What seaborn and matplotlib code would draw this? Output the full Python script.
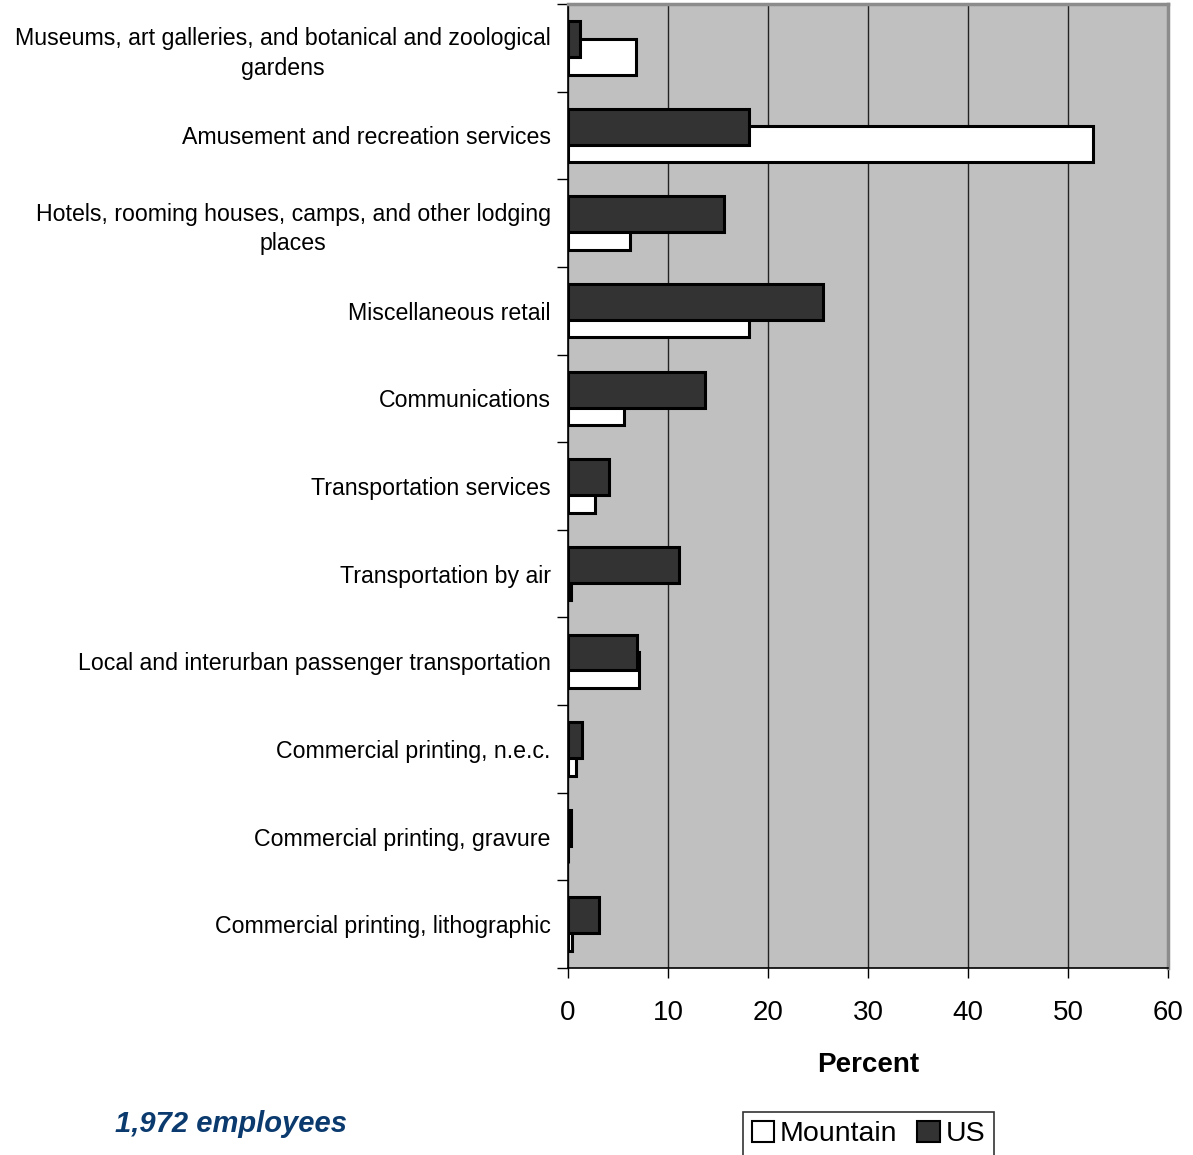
import matplotlib
matplotlib.use("Agg")
import matplotlib.pyplot as plt
from matplotlib.patches import Patch
import seaborn as sns
import pandas as pd

categories = [
    "Museums, art galleries, and botanical and zoological\ngardens",
    "Amusement and recreation services",
    "Hotels, rooming houses, camps, and other lodging\nplaces",
    "Miscellaneous retail",
    "Communications",
    "Transportation services",
    "Transportation by air",
    "Local and interurban passenger transportation",
    "Commercial printing, n.e.c.",
    "Commercial printing, gravure",
    "Commercial printing, lithographic",
]
mountain = [6.8, 52.5, 6.2, 18.1, 5.6, 2.7, 0.3, 7.1, 0.8, 0.0, 0.4]
us = [1.2, 18.1, 15.6, 25.5, 13.7, 4.1, 11.1, 6.9, 1.4, 0.25, 3.1]
x_ticks = [0, 10, 20, 30, 40, 50, 60]

df = pd.DataFrame({"category": categories, "Mountain": mountain, "US": us})

sns.set_style("white")
plt.rcParams["font.family"] = ["Liberation Sans", "DejaVu Sans"]
plt.rcParams["text.color"] = "black"
plt.rcParams["xtick.color"] = "black"
plt.rcParams["ytick.color"] = "black"
plt.rcParams["axes.labelcolor"] = "black"

W, H = 1193, 1155
fig = plt.figure(figsize=(W / 100, H / 100), dpi=100)
ax = fig.add_axes([568 / W, 1 - 968 / H, 600 / W, 964 / H])
ax.set_facecolor("#C0C0C0")

bw = 0.41
sns.barplot(data=df, y="category", x="Mountain", orient="h", color="white",
            edgecolor="black", linewidth=2.2, width=bw, ax=ax, saturation=1)
n_m = len(ax.patches)
sns.barplot(data=df, y="category", x="US", orient="h", color="#333333",
            edgecolor="black", linewidth=2.2, width=bw, ax=ax, saturation=1)
for i, p in enumerate(ax.patches):
    shift = 0.1 if i < n_m else -0.1
    p.set_y(p.get_y() + shift)
    p.set_zorder(3 if i < n_m else 4)

ax.set_xlim(0, 60)
ax.set_ylim(len(categories) - 0.5, -0.5)
ax.set_xticks(x_ticks)
ax.set_xticklabels([str(t) for t in x_ticks], fontsize=20)
ax.xaxis.grid(True, color="#222222", linewidth=1)
ax.set_axisbelow(True)

ax.set_yticks(range(len(categories)))
ax.set_yticklabels(categories, fontsize=16.7, multialignment="center", linespacing=1.35)
ax.tick_params(axis="y", which="major", length=0, pad=12.5)
ax.set_yticks([k - 0.5 for k in range(len(categories) + 1)], minor=True)
ax.tick_params(axis="y", which="minor", length=8, width=1, color="black", direction="out", left=True)
ax.tick_params(axis="x", which="major", length=7, width=1, color="black", direction="out", bottom=True, pad=16)

ax.set_xlabel("Percent", fontsize=20, fontweight="bold", labelpad=19)
ax.set_ylabel("")

for s in ["left", "bottom"]:
    ax.spines[s].set_color("black")
    ax.spines[s].set_linewidth(1.2)
for s in ["top", "right"]:
    ax.spines[s].set_color("#8C8C8C")
    ax.spines[s].set_linewidth(2.5)

fig.text(115 / W, 1 - 1124 / H, "1,972 employees", fontsize=21, fontweight="bold",
         fontstyle="italic", color="#0B3A6E", ha="left", va="center")

handles = [Patch(facecolor="white", edgecolor="black", linewidth=1.5, label="Mountain"),
           Patch(facecolor="#333333", edgecolor="black", linewidth=1.5, label="US")]
leg = fig.legend(handles=handles, loc="center", bbox_to_anchor=(868.5 / W, 1 - 1134 / H),
                 ncol=2, fontsize=20.5, frameon=True, fancybox=False, edgecolor="black",
                 handlelength=0.8, handleheight=0.8, handletextpad=0.2, columnspacing=0.7,
                 borderpad=0.3, borderaxespad=0)
leg.get_frame().set_linewidth(1.2)

fig.savefig("out.png", dpi=100)
